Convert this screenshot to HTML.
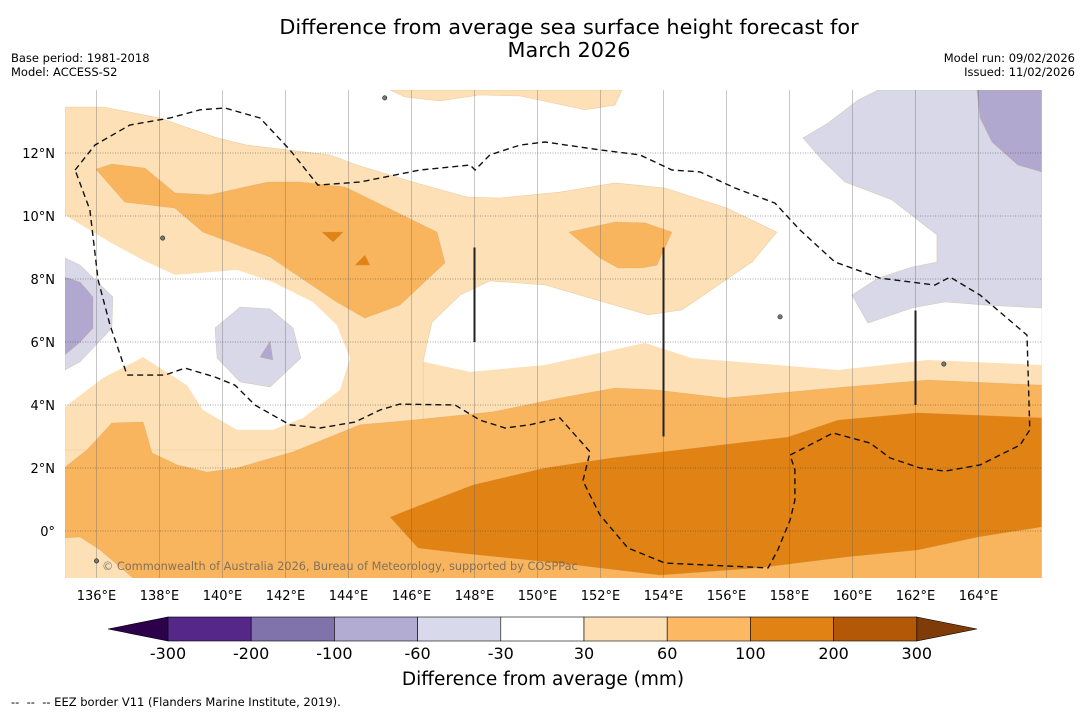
<!DOCTYPE html>
<html><head><meta charset="utf-8">
<style>
body{margin:0;background:#fff;font-family:"Liberation Sans","DejaVu Sans",sans-serif;}
svg{display:block}
text{font-family:"DejaVu Sans","Liberation Sans",sans-serif;}
</style></head>
<body>
<svg id="chart" width="1085" height="713" viewBox="0 0 1085 713" xmlns="http://www.w3.org/2000/svg">
<rect width="1085" height="713" fill="#fff"/>
<text x="569" y="34" font-size="20.8" text-anchor="middle">Difference from average sea surface height forecast for</text>
<text x="569" y="57" font-size="20.8" text-anchor="middle">March 2026</text>
<text x="11" y="62" font-size="11.5">Base period: 1981-2018</text>
<text x="11" y="76" font-size="11.5">Model: ACCESS-S2</text>
<text x="1075" y="62" font-size="11.5" text-anchor="end">Model run: 09/02/2026</text>
<text x="1075" y="76" font-size="11.5" text-anchor="end">Issued: 11/02/2026</text>
<defs><clipPath id="mapclip"><rect x="65" y="90" width="977" height="488"/></clipPath></defs>
<g id="map" clip-path="url(#mapclip)"></g>
<g id="axes"></g>
<g id="cbar"></g>
<text x="543" y="685" font-size="18.5" text-anchor="middle">Difference from average (mm)</text>
<text x="11" y="706" font-size="11.5">-- &#160;-- &#160;-- EEZ border V11 (Flanders Marine Institute, 2019).</text>
</svg>
<script>
const lonTicks=[136,138,140,142,144,146,148,150,152,154,156,158,160,162,164];
const latTicks=[12,10,8,6,4,2,0];
const cbLevels=[-300,-200,-100,-60,-30,30,60,100,200,300];
const cbColors=["#542788","#8073ac","#b2abd2","#d8daeb","#ffffff","#fee0b6","#fdb863","#e08214","#b35806"];
const C_LAV="#d8d8e9",C_PUR="#b0a8cf",C_L="#fde0b6",C_O="#f9b55e",C_D="#e08214";
const whiteBig=[[135,14],[166,14],[166,5.27],[162.4,5.43],[159.54,5.11],[154.9,5.49],[153.41,5.97],[150.24,5.27],[147.86,5.05],[146.37,5.37],[146.37,10.51],[135,10.51]];
const band=[[135,13.46],[136.21,13.46],[138.02,13.11],[139.83,12.48],[140.78,12.25],[143.41,11.94],[144.27,11.62],[146.05,11.08],[147.76,10.6],[148.81,10.57],[150.71,10.76],[152.46,11.05],[154.05,10.89],[156.02,10.25],[157.6,9.49],[156.81,8.54],[154.59,7.02],[153.51,6.86],[150.24,7.81],[148.49,7.94],[147.54,7.49],[146.65,6.63],[146.46,5.81],[146.37,5.37],[146.37,2.57],[135,2.57]];
const leftHole=[[135,10.03],[136.43,9.17],[137.48,8.6],[138.49,8.13],[139.6,8.22],[140.46,8.29],[141.6,7.9],[142.87,7.27],[143.63,6.54],[144.05,5.49],[143.73,4.48],[142.56,3.59],[141.6,3.21],[140.46,3.21],[139.38,3.84],[138.87,4.63],[137.48,5.52],[136.21,4.86],[135,3.94]];
const leftLav=[[135,8.67],[135.48,8.44],[136.52,7.43],[136.49,6.44],[135.48,5.37],[135,5.11]];
const leftPur=[[135,8.06],[135.48,7.9],[135.89,7.43],[135.89,6.44],[135.48,6],[135,5.59]];
const blobLav=[[139.76,6.44],[140.56,7.11],[141.51,7.05],[142.24,6.44],[142.49,5.49],[141.51,4.57],[140.56,4.73],[139.83,5.49]];
const blobPur=[[141.19,5.52],[141.51,6.03],[141.6,5.43]];
const orangeTop=[[135.98,11.49],[136.49,11.65],[137.54,11.52],[138.49,10.73],[139.6,10.67],[141.44,11.08],[142.46,11.08],[143.89,10.92],[146.81,9.49],[147.06,8.51],[145.63,7.17],[144.52,6.76],[143.63,7.27],[141.51,8.7],[139.38,9.49],[138.49,10.25],[136.9,10.44]];
const dark1=[[143.16,9.49],[143.83,9.49],[143.51,9.17]];
const dark2=[[144.21,8.44],[144.68,8.44],[144.52,8.76]];
const orange2=[[151,9.49],[152.46,9.81],[153.41,9.78],[154.27,9.49],[153.79,8.44],[153.32,8.35],[152.56,8.35],[151.98,8.67]];
const topStrip=[[145.32,14],[145.79,13.78],[146.9,13.65],[148.17,13.84],[149.44,13.81],[151.51,13.37],[152.46,13.52],[152.68,14]];
const lavTR=[[158.43,12.48],[159.03,11.78],[159.76,11.08],[161.25,10.51],[161.98,9.94],[162.68,9.4],[162.68,8.54],[161.89,8.38],[160.81,8.03],[159.98,7.49],[160.49,6.6],[161.89,7.08],[162.94,7.27],[164.21,7.17],[166,7.08],[166,14],[160.81,14],[160.17,13.68],[159.22,12.95]];
const purTR=[[163.95,14],[164.05,13.11],[164.43,12.35],[165.25,11.62],[166,11.4],[166,14]];
const orangeBot=[[135,2.03],[135.7,2.57],[136.49,3.43],[137.48,3.46],[137.76,2.48],[138.56,2.1],[139.51,1.87],[140.46,2],[142.24,2.51],[144.37,3.37],[146.05,3.52],[148.59,3.78],[150.71,4.22],[152.46,4.54],[153.73,4.48],[155.95,4.22],[159.76,4.57],[162.4,4.79],[166,4.63],[166,-1.6],[135,-1.6]];
const lightCorner=[[135,-0.22],[135.48,-0.19],[136.11,-0.6],[137.29,-1.6],[135,-1.6]];
const darkBot=[[145.32,0.44],[146.05,0.73],[147.95,1.46],[150.24,2],[152.37,2.32],[157.95,2.98],[159.54,3.52],[162.08,3.75],[166,3.59],[166,0.13],[163.98,-0.19],[162.08,-0.6],[159.76,-0.83],[157,-1.17],[153.89,-1.4],[150.71,-1.02],[147.54,-0.7],[146.21,-0.54]];
const eez=[[135.32,11.46],[135.95,12.25],[137.06,12.89],[138.33,13.11],[139.29,13.37],[140.08,13.43],[141.19,13.11],[142.14,12.1],[143.03,10.98],[144.37,11.08],[146.27,11.46],[147.86,11.62],[148.02,11.46],[148.49,11.94],[149.44,12.25],[150.24,12.35],[151.98,12.1],[153.25,11.94],[154.27,11.46],[155.16,11.4],[156.27,10.89],[157.54,10.41],[158.33,9.56],[159.44,8.54],[160.87,8.03],[162.62,7.81],[163.1,8.06],[164.05,7.49],[165.54,6.22],[165.63,3.21],[165.32,2.73],[164.05,2.1],[162.94,1.9],[162.14,2],[161.19,2.32],[160.56,2.79],[159.38,3.11],[158.02,2.41],[158.17,1.94],[158.17,0.98],[158.02,0.35],[157.63,-0.6],[157.32,-1.17],[154.05,-1.02],[152.87,-0.54],[151.98,0.51],[151.44,1.59],[151.67,2.51],[150.71,3.59],[149.76,3.37],[148.97,3.27],[148.17,3.52],[147.38,4],[145.63,4.03],[145,3.84],[144.21,3.46],[143.1,3.27],[142.14,3.37],[141.03,4],[140.4,4.63],[139.76,4.89],[138.81,5.17],[138.17,4.95],[136.97,4.95],[136.43,6.54],[136.05,7.97],[135.79,10.19],[135.32,11.46]];
const vLines=[[148,9,6],[154,9,3],[162,7,4]];
const islands=[[145.15,13.75],[138.1,9.3],[157.7,6.8],[162.9,5.3],[136,-0.95]];

const X=lon=>65+(lon-135)*31.5;
const Y=lat=>531-lat*31.5;
const NS="http://www.w3.org/2000/svg";
const map=document.getElementById('map'),axes=document.getElementById('axes'),cbar=document.getElementById('cbar');
function mk(tag,parent,attrs){const e=document.createElementNS(NS,tag);for(const k in attrs)e.setAttribute(k,attrs[k]);parent.appendChild(e);return e;}
const pts=a=>a.map(p=>X(p[0]).toFixed(1)+','+Y(p[1]).toFixed(1)).join(' ');

let bg=mk('rect',map,{x:65,y:90,width:977,height:488,fill:C_L});


const layers=[[whiteBig,'#ffffff','contour-white-north'],[band,C_L,'contour-30-60-band'],[leftHole,'#ffffff','contour-white-west'],[leftLav,C_LAV,'contour-lavender-west'],[leftPur,C_PUR,'contour-purple-west'],[blobLav,C_LAV,'contour-lavender-blob'],[blobPur,C_PUR,'contour-purple-blob'],[orangeTop,C_O,'contour-60-100-north'],[dark1,C_D,'contour-100-200-spot'],[dark2,C_D,'contour-100-200-spot'],[orange2,C_O,'contour-60-100-east'],[topStrip,C_L,'contour-30-60-top'],[lavTR,C_LAV,'contour-lavender-northeast'],[purTR,C_PUR,'contour-purple-northeast'],[orangeBot,C_O,'contour-60-100-south'],[lightCorner,C_L,'contour-30-60-corner'],[darkBot,C_D,'contour-100-200-south']];
layers.forEach(l=>{const stroke=l[1]==='#ffffff'?'none':'rgba(200,150,80,0.35)';
 const p=mk('polygon',map,{points:pts(l[0]),fill:l[1],stroke:stroke,'stroke-width':0.6});
 
 });
lonTicks.forEach(l=>{const g=mk('line',map,{x1:X(l),x2:X(l),y1:90,y2:578,stroke:'rgba(100,100,100,0.45)','stroke-width':0.8});
 
 });
latTicks.forEach(l=>{const g=mk('line',map,{x1:65,x2:1042,y1:Y(l),y2:Y(l),stroke:'rgba(60,60,60,0.6)','stroke-width':0.8,'stroke-dasharray':'1,1.5'});
 
 });
islands.forEach(p=>{const c=mk('ellipse',map,{cx:X(p[0]),cy:Y(p[1]),rx:2.2,ry:2.2,fill:'#777',stroke:'#000','stroke-width':0.5});
 
 });
vLines.forEach(v=>{const l=mk('line',map,{x1:X(v[0]),x2:X(v[0]),y1:Y(v[1]),y2:Y(v[2]),stroke:'#222','stroke-width':2});
 
 });
const ez=mk('polyline',map,{points:pts(eez),fill:'none',stroke:'#111','stroke-width':1.4,'stroke-dasharray':'6,4'});


const cp=mk('text',map,{x:102,y:570,'font-size':11.3,fill:'rgba(90,90,90,0.75)'});
cp.textContent='© Commonwealth of Australia 2026, Bureau of Meteorology, supported by COSPPac';


lonTicks.forEach(l=>{const t=mk('text',axes,{x:X(l),y:600,'font-size':13,'text-anchor':'middle'});t.textContent=l+'°E';
 
 });
latTicks.forEach(l=>{const t=mk('text',axes,{x:55,y:Y(l)+5,'font-size':13,'text-anchor':'end'});t.textContent=l===0?'0°':l+'°N';
 
 });
const cbX=i=>168+i*83.2, cbY=617, cbH=24;
let tl=mk('polygon',cbar,{points:`108,${cbY+cbH/2} 168,${cbY} 168,${cbY+cbH}`,fill:'#2d004b',stroke:'#000','stroke-width':0.6});


let tr=mk('polygon',cbar,{points:`${cbX(9)},${cbY} 977,${cbY+cbH/2} ${cbX(9)},${cbY+cbH}`,fill:'#7f3b08',stroke:'#000','stroke-width':0.6});


cbColors.forEach((c,i)=>{const r=mk('rect',cbar,{x:cbX(i),y:cbY,width:83.2,height:cbH,fill:c,stroke:'#000','stroke-width':0.6});
 
 });
cbLevels.forEach((v,i)=>{const t=mk('text',cbar,{x:cbX(i),y:cbY+cbH+18,'font-size':16,'text-anchor':'middle'});t.textContent=v;
 
 });
</script>
</body></html>
